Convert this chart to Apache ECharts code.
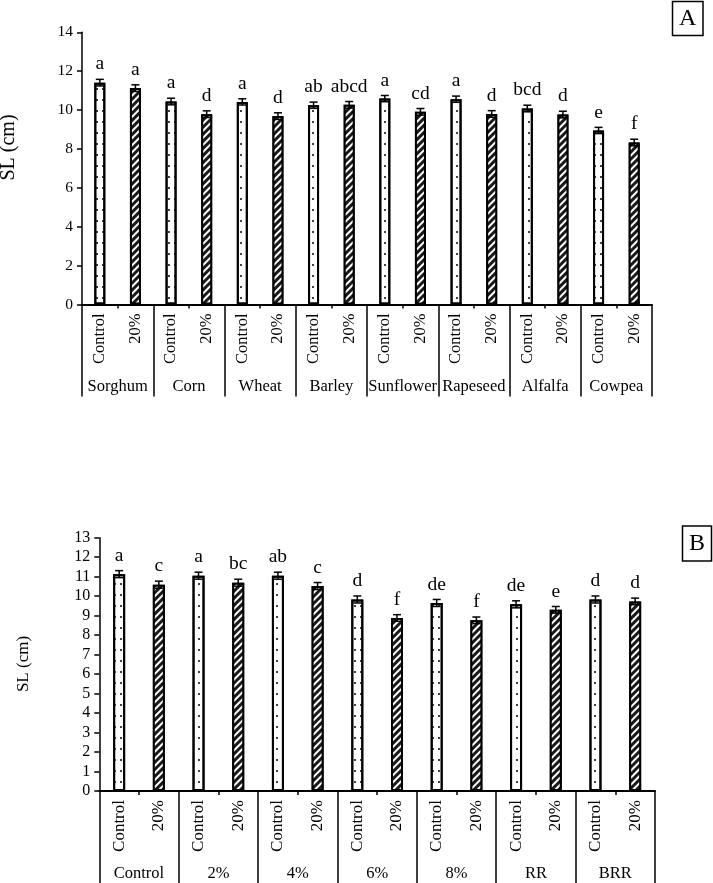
<!DOCTYPE html>
<html>
<head>
<meta charset="utf-8">
<script src="https://cdn.jsdelivr.net/npm/echarts@6/dist/echarts.min.js"></script>
<style>
html,body{margin:0;padding:0;background:#fff;}
#c{width:713px;height:883px;}
</style>
</head>
<body>
<div id="c"></div>
<script>
// ---------- Data: panel A ----------
const groupsA = ['Sorghum', 'Corn', 'Wheat', 'Barley', 'Sunflower', 'Rapeseed', 'Alfalfa', 'Cowpea'];
const treatmentLabels = ['Control', '20%'];
const controlA = [11.41, 10.44, 10.42, 10.25, 10.59, 10.56, 10.08, 8.95];
const treatA = [11.13, 9.79, 9.69, 10.27, 9.91, 9.80, 9.77, 8.33];
const errControlA = [0.17, 0.17, 0.16, 0.16, 0.16, 0.16, 0.17, 0.16];
const errTreatA = [0.17, 0.17, 0.17, 0.17, 0.17, 0.17, 0.17, 0.17];
const lettersControlA = ['a', 'a', 'a', 'ab', 'a', 'a', 'bcd', 'e'];
const lettersTreatA = ['a', 'd', 'd', 'abcd', 'cd', 'd', 'd', 'f'];
const yTicksA = {min: 0, max: 14, interval: 2};

// ---------- Data: panel B ----------
const groupsB = ['Control', '2%', '4%', '6%', '8%', 'RR', 'BRR'];
const controlB = [11.13, 11.05, 11.05, 9.83, 9.65, 9.58, 9.83];
const treatB = [10.59, 10.69, 10.52, 8.88, 8.76, 9.30, 9.73];
const errControlB = [0.18, 0.18, 0.18, 0.18, 0.18, 0.18, 0.18];
const errTreatB = [0.18, 0.18, 0.18, 0.17, 0.17, 0.17, 0.17];
const lettersControlB = ['a', 'a', 'ab', 'd', 'de', 'de', 'd'];
const lettersTreatB = ['c', 'bc', 'c', 'f', 'f', 'e', 'd'];
const yTicksB = {min: 0, max: 13, interval: 1};

const FONT = '"Liberation Serif", "Times New Roman", serif';

const controlStyle = {
  color: '#ffffff', borderColor: '#000', borderWidth: 2,
  decal: {symbol: 'circle', color: '#000', symbolSize: 1, dashArrayX: [[1.6, 4]], dashArrayY: [1.6, 9], rotation: 0}
};
const treatStyle = {
  color: '#1a1a1a', borderColor: '#000', borderWidth: 2,
  decal: {symbol: 'rect', color: '#ffffff', symbolSize: 1, dashArrayX: [1, 0], dashArrayY: [1.4, 2.4], rotation: -Math.PI / 4}
};

function interleave(groups, c, t) {
  const cats = [], vals = [];
  for (let i = 0; i < groups.length; i++) {
    cats.push(treatmentLabels[0], treatmentLabels[1]);
    vals.push({value: c[i], itemStyle: controlStyle});
    vals.push({value: t[i], itemStyle: treatStyle});
  }
  return {cats, vals};
}

const A = interleave(groupsA, controlA, treatA);
const B = interleave(groupsB, controlB, treatB);

function errData(c, t, ec, et) {
  const out = [];
  for (let i = 0; i < c.length; i++) {
    out.push([2 * i, c[i], ec[i]]);
    out.push([2 * i + 1, t[i], et[i]]);
  }
  return out;
}
function letterList(lc, lt) {
  const out = [];
  for (let i = 0; i < lc.length; i++) { out.push(lc[i], lt[i]); }
  return out;
}
const lettersA = letterList(lettersControlA, lettersTreatA);
const lettersB = letterList(lettersControlB, lettersTreatB);

function makeRender(letters, fontSize) {
  return function (params, api) {
    const x = api.value(0), v = api.value(1), e = api.value(2);
    const top = api.coord([x, v + e]);
    const bot = api.coord([x, v - e]);
    const hw = 4;
    const ls = {stroke: '#000', lineWidth: 1.5};
    return {
      type: 'group',
      children: [
        {type: 'line', shape: {x1: top[0], y1: top[1], x2: bot[0], y2: bot[1]}, style: ls},
        {type: 'line', shape: {x1: top[0] - hw, y1: top[1], x2: top[0] + hw, y2: top[1]}, style: ls},
        {type: 'line', shape: {x1: bot[0] - hw, y1: bot[1], x2: bot[0] + hw, y2: bot[1]}, style: ls},
        {type: 'text', style: {text: letters[params.dataIndex], x: top[0], y: top[1] - 5,
          align: 'center', verticalAlign: 'bottom', fill: '#000',
          font: fontSize + 'px ' + FONT}}
      ]
    };
  };
}

const chart = echarts.init(document.getElementById('c'), null, {renderer: 'canvas'});

function yAxisCfg(gi, t, fs) {
  return {
    type: 'value', gridIndex: gi, min: t.min, max: t.max, interval: t.interval,
    axisLine: {show: true, lineStyle: {color: '#000', width: 1.5}},
    axisTick: {show: true, length: 5, lineStyle: {color: '#000', width: 1.5}},
    axisLabel: {color: '#000', fontFamily: FONT, fontSize: fs, margin: 9},
    splitLine: {show: false}
  };
}
function xAxisCfg(gi, cats, fs) {
  return {
    type: 'category', gridIndex: gi, data: cats, position: 'bottom',
    axisLine: {show: true, lineStyle: {color: '#000', width: 2}},
    axisTick: {show: true, length: 4, alignWithLabel: false, lineStyle: {color: '#000', width: 1.5}},
    axisLabel: {rotate: 90, color: '#000', fontFamily: FONT, fontSize: fs, margin: 9, interval: 0}
  };
}
function groupAxisCfg(gi, groups, fs) {
  return {
    type: 'category', gridIndex: gi, data: groups, position: 'bottom',
    axisLine: {show: false},
    axisTick: {show: true, length: 92, lineStyle: {color: '#000', width: 1.5}},
    axisLabel: {color: '#000', fontFamily: FONT, fontSize: fs, margin: 74, interval: 0}
  };
}

chart.setOption({
  animation: false,
  backgroundColor: '#fff',
  grid: [
    {left: 82, right: 61, top: 32.3, bottom: 578.5},
    {left: 99.3, right: 58, top: 537.7, bottom: 92}
  ],
  xAxis: [
    xAxisCfg(0, A.cats, 16.5),
    groupAxisCfg(0, groupsA, 16.5),
    xAxisCfg(1, B.cats, 17),
    groupAxisCfg(1, groupsB, 16.5)
  ],
  yAxis: [yAxisCfg(0, yTicksA, 15.5), yAxisCfg(1, yTicksB, 16)],
  series: [
    {type: 'bar', xAxisIndex: 0, yAxisIndex: 0, data: A.vals, barWidth: 11},
    {type: 'custom', xAxisIndex: 0, yAxisIndex: 0, data: errData(controlA, treatA, errControlA, errTreatA),
      renderItem: makeRender(lettersA, 19.5), z: 5},
    {type: 'bar', xAxisIndex: 2, yAxisIndex: 1, data: B.vals, barWidth: 12},
    {type: 'custom', xAxisIndex: 2, yAxisIndex: 1, data: errData(controlB, treatB, errControlB, errTreatB),
      renderItem: makeRender(lettersB, 19.5), z: 5}
  ],
  graphic: [
    {type: 'text', x: 9, y: 147.5, rotation: Math.PI / 2,
      style: {text: 'SL (cm)', align: 'center', verticalAlign: 'middle', fill: '#000', font: '20px ' + FONT}},
    {type: 'text', x: 24, y: 664, rotation: Math.PI / 2,
      style: {text: 'SL (cm)', align: 'center', verticalAlign: 'middle', fill: '#000', font: '17px ' + FONT}},
    {type: 'rect', shape: {x: 672.5, y: 1.5, width: 30.5, height: 34}, style: {fill: '#fff', stroke: '#000', lineWidth: 1.5}},
    {type: 'text', x: 687.75, y: 19, style: {text: 'A', align: 'center', verticalAlign: 'middle', fill: '#000', font: '24px ' + FONT}},
    {type: 'rect', shape: {x: 682.5, y: 526, width: 29, height: 35}, style: {fill: '#fff', stroke: '#000', lineWidth: 1.5}},
    {type: 'text', x: 697, y: 544, style: {text: 'B', align: 'center', verticalAlign: 'middle', fill: '#000', font: '24px ' + FONT}}
  ]
});
</script>
</body>
</html>
